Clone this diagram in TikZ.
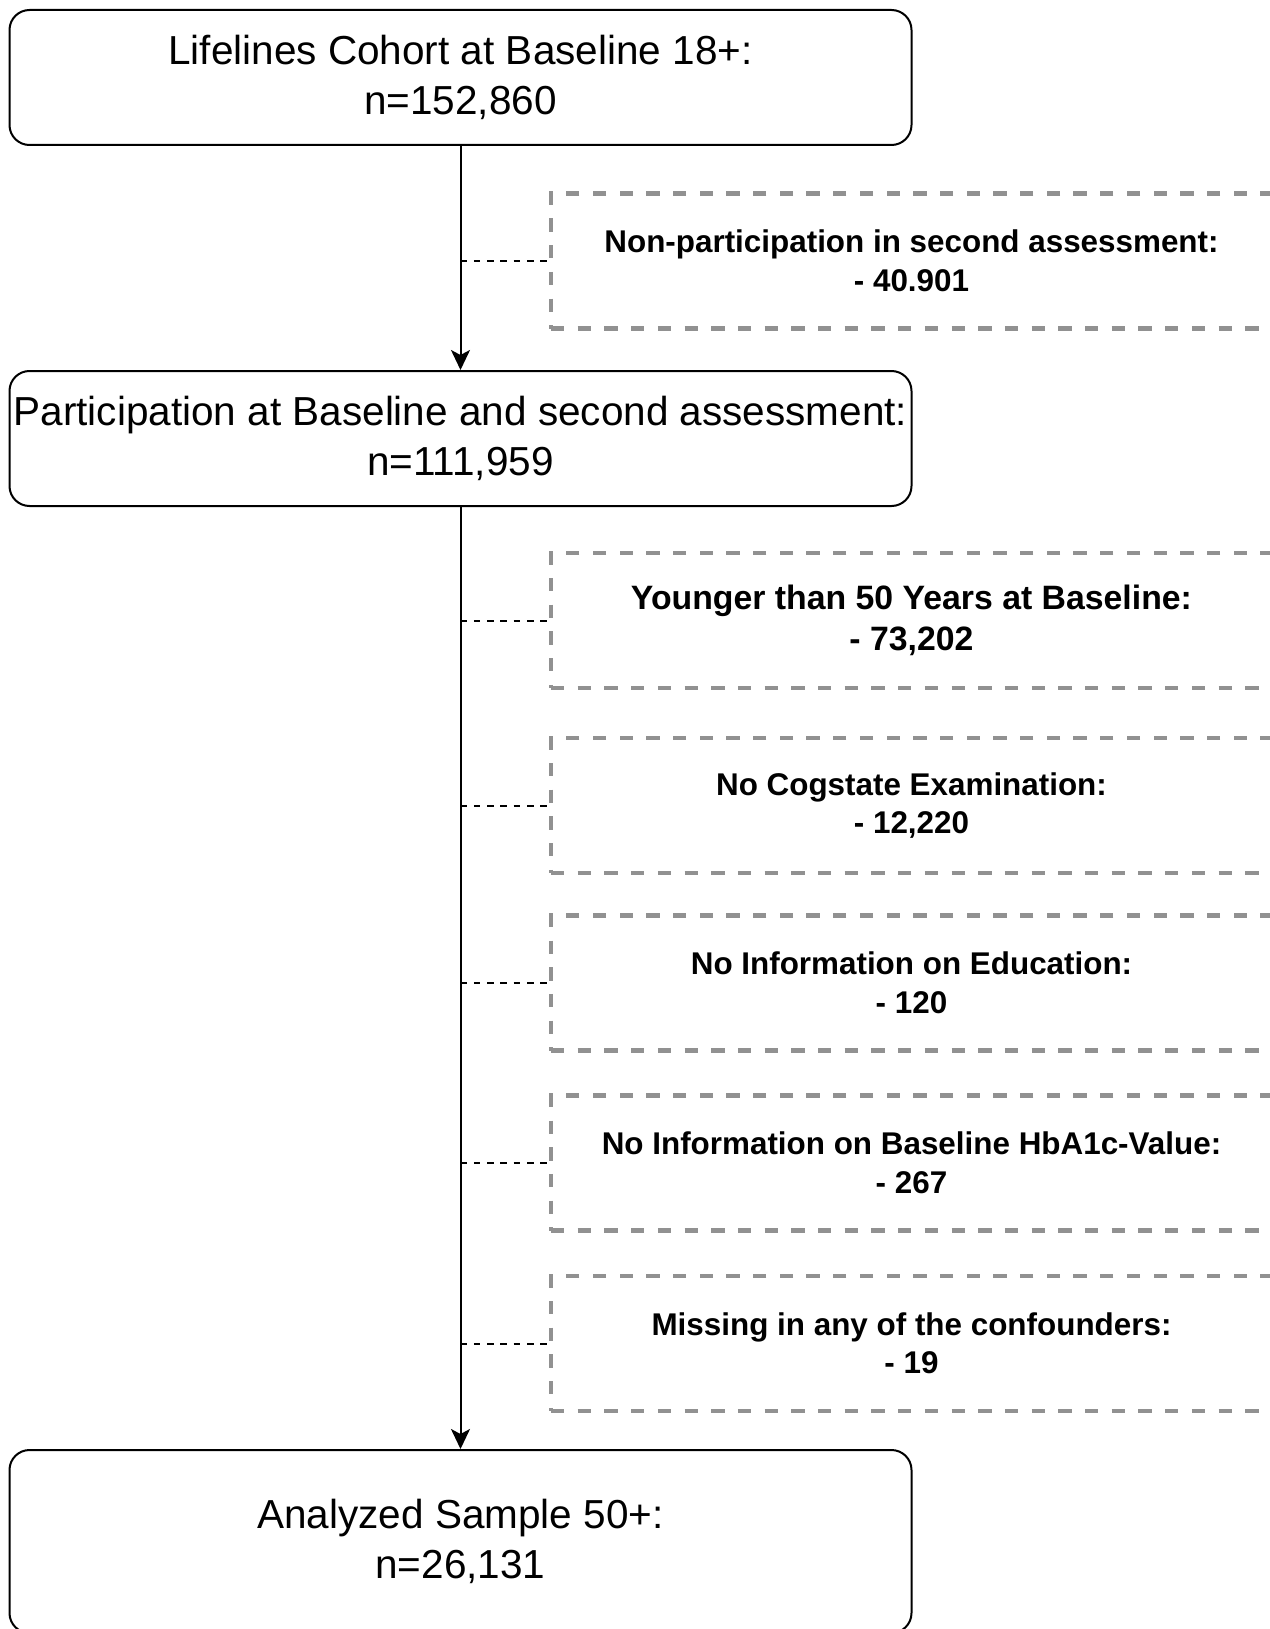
\documentclass[tikz,border=0pt]{standalone}
\usepackage{fontspec}
\setmainfont{Liberation Sans}
\usetikzlibrary{arrows.meta}
\definecolor{dropgray}{HTML}{919191}

\begin{document}
\begin{tikzpicture}[x=1pt, y=-1pt,
		stage/.style={draw, line width=2pt, rounded corners=20pt, minimum width=902pt, minimum height=135pt, inner sep=0pt, align=center, font=\fontsize{40.5}{50}\selectfont},
		dropout/.style={draw=dropgray, line width=4.2pt, dash pattern=on 13.3pt off 13.4pt, minimum width=721pt, minimum height=135pt, inner sep=0pt, align=center, font=\bfseries\fontsize{31.4}{38.5}\selectfont},
		flow/.style={line width=2pt, -{Stealth[length=20pt, width=19pt, inset=5pt]}},
		link/.style={line width=2pt, dash pattern=on 6.6pt off 6.7pt}]
		\useasboundingbox (0,0) rectangle (1269,1629);

		% main stages
		\node[stage] (cohort) at (460.5, 77.5) {Lifelines Cohort at Baseline 18+:\\n=152,860};
		\node[stage] (both) at (460.5, 438.5) {Participation at Baseline and second assessment:\\n=111,959};
		\node[stage, minimum height=183pt] (sample) at (460.5, 1541.5) {Analyzed Sample 50+:\\n=26,131};

		% exclusions
		\node[dropout] (nonpart) at (911.5, 261) {Non-participation in second assessment:\\- 40.901};
		\node[dropout, font=\bfseries\fontsize{33.8}{41}\selectfont] (young) at (911.5, 620.5) {Younger than 50 Years at Baseline:\\- 73,202};
		\node[dropout] (cogstate) at (911.5, 805.5) {No Cogstate Examination:\\- 12,220};
		\node[dropout] (educ) at (911.5, 983) {No Information on Education:\\- 120};
		\node[dropout] (hba1c) at (911.5, 1163) {No Information on Baseline HbA1c-Value:\\- 267};
		\node[dropout] (confound) at (911.5, 1343.5) {Missing in any of the confounders:\\- 19};

		\draw[flow] (cohort) -- (both);
		\draw[flow] (both) -- (sample);
		\foreach \ex in {nonpart, young, cogstate, educ, hba1c, confound}
			\draw[link] (\ex.west -| cohort.south) -- (\ex.west);
	\end{tikzpicture}
\end{document}
